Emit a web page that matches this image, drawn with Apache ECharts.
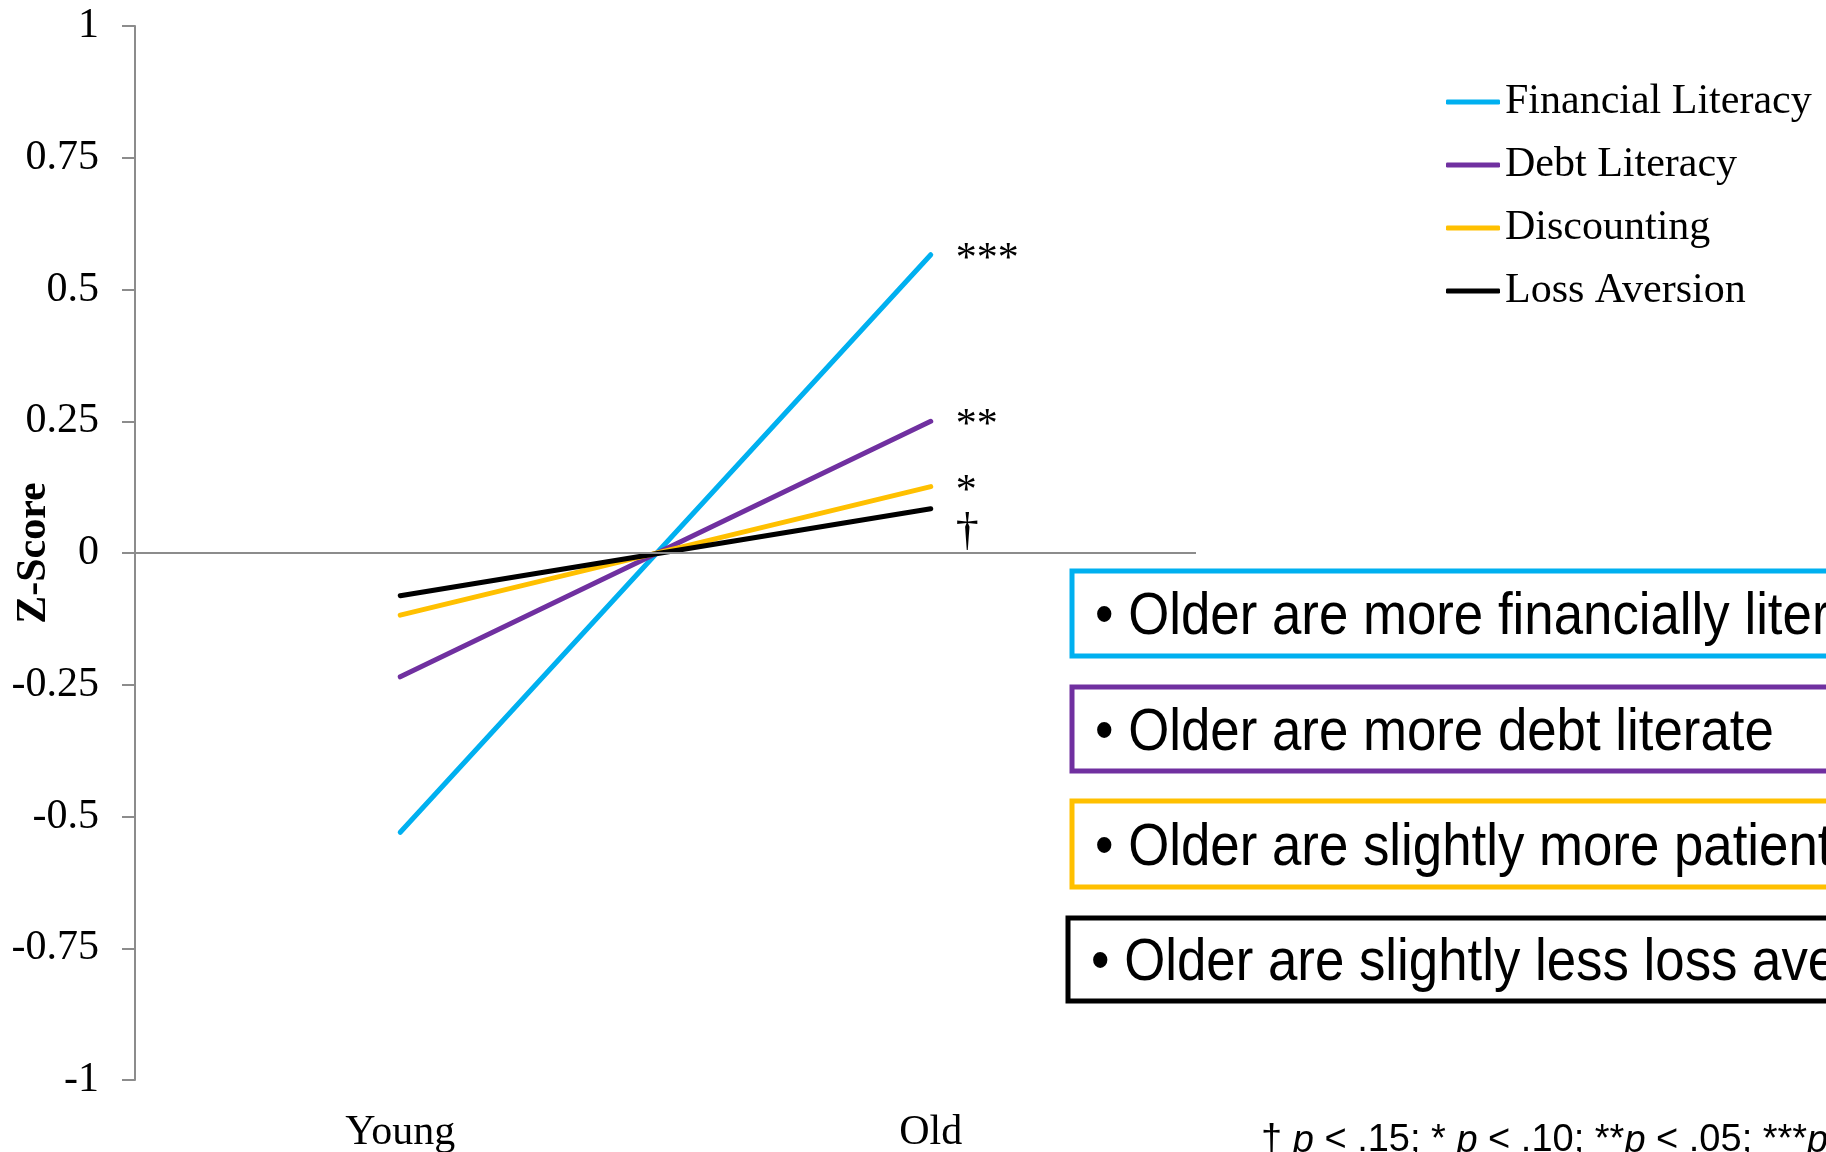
<!DOCTYPE html>
<html><head><meta charset="utf-8">
<script src="https://cdn.jsdelivr.net/npm/echarts@6/dist/echarts.min.js"></script>
<style>html,body{margin:0;padding:0;background:#fff;overflow:hidden}#c{width:1826px;height:1152px}</style>
</head><body><div id="c"></div>
<script>
const categories = ['Young', 'Old'];
const seriesNames = ['Financial Literacy', 'Debt Literacy', 'Discounting', 'Loss Aversion'];
const financialLiteracy = [-0.53, 0.566];
const debtLiteracy = [-0.235, 0.25];
const discounting = [-0.118, 0.126];
const lossAversion = [-0.081, 0.084];
const significance = ['***', '**', '*', '\u2020'];
const boxTexts = [
  '\u2022 Older are more financially literate',
  '\u2022 Older are more debt literate',
  '\u2022 Older are slightly more patient',
  '\u2022 Older are slightly less loss averse'
];
const footnote = '\u2020 {i|p} < .15; * {i|p} < .10; **{i|p} < .05; ***{i|p} < .01';

const colors = ['#00B0F0', '#7030A0', '#FFC000', '#000000'];
const values = [financialLiteracy, debtLiteracy, discounting, lossAversion];
const serif = 'Liberation Serif, Times New Roman, serif';
const sans = 'Liberation Sans, Arial, sans-serif';

const series = values.map((vals, s) => ({
  name: seriesNames[s],
  type: 'line',
  z: 3,
  symbol: 'circle',
  symbolSize: 0,
  showSymbol: true,
  lineStyle: { color: colors[s], width: 5, cap: 'round' },
  itemStyle: { color: colors[s] },
  data: vals.map((v, i) => i === 1 ? {
    value: v,
    label: {
      show: true, formatter: significance[s], position: 'right', distance: 25,
      fontFamily: serif, fontSize: s === 3 ? 46 : 42, color: '#000',
      offset: s === 3 ? [0, 24] : [0, 5]
    }
  } : v)
}));
series.unshift({
  type: 'line', name: 'zero', z: 1, data: [], symbol: 'none',
  markLine: {
    silent: true, symbol: ['none', 'none'], animation: false,
    lineStyle: { color: '#8c8c8c', width: 2, type: 'solid' },
    label: { show: false },
    data: [{ yAxis: 0 }]
  }
});

const boxes = [
  { x: 1072, y: 571, h: 85 },
  { x: 1072, y: 687, h: 84 },
  { x: 1072, y: 801, h: 86 },
  { x: 1068, y: 918, h: 83 }
];
const graphic = [];
boxes.forEach((b, i) => {
  graphic.push({
    type: 'rect', shape: { x: b.x, y: b.y, width: 1200, height: b.h },
    style: { fill: 'none', stroke: colors[i], lineWidth: 5 }
  });
  graphic.push({
    type: 'text', x: b.x + 23, y: b.y + b.h / 2 + 4, scaleX: 0.88,
    style: { text: boxTexts[i], fontSize: 60, fontFamily: sans, fill: '#000', verticalAlign: 'middle', align: 'left' }
  });
});
graphic.push({
  type: 'text', x: 1261, y: 1141,
  style: {
    text: footnote, fontSize: 38, fontFamily: sans, fill: '#000', verticalAlign: 'middle', align: 'left',
    rich: { i: { fontStyle: 'italic', fontSize: 38, fontFamily: sans, fill: '#000' } }
  }
});

const chart = echarts.init(document.getElementById('c'));
chart.setOption({
  animation: false,
  backgroundColor: '#fff',
  grid: { left: 135, right: 630, top: 26, bottom: 72, containLabel: false, outerBoundsMode: 'none' },
  legend: {
    data: seriesNames, orient: 'vertical', left: 1441, top: 76,
    icon: 'roundRect', itemWidth: 54, itemHeight: 5, itemGap: 21,
    textStyle: { fontFamily: serif, fontSize: 42, color: '#000', lineHeight: 42 }
  },
  xAxis: {
    type: 'category', data: categories, boundaryGap: true,
    axisLine: { show: false }, axisTick: { show: false },
    axisLabel: { fontFamily: serif, fontSize: 42, color: '#000', margin: 32 }
  },
  yAxis: {
    type: 'value', min: -1, max: 1, interval: 0.25,
    name: 'Z-Score', nameLocation: 'middle', nameGap: 80, nameMoveOverlap: false,
    nameTextStyle: { fontFamily: serif, fontSize: 42, fontWeight: 'bold', color: '#000' },
    axisLine: { show: true, lineStyle: { color: '#8c8c8c', width: 2 } },
    axisTick: { show: true, length: 13, lineStyle: { color: '#8c8c8c', width: 2 } },
    splitLine: { show: false },
    axisLabel: { fontFamily: serif, fontSize: 42, color: '#000', margin: 36 }
  },
  series: series,
  graphic: graphic
});
</script></body></html>
